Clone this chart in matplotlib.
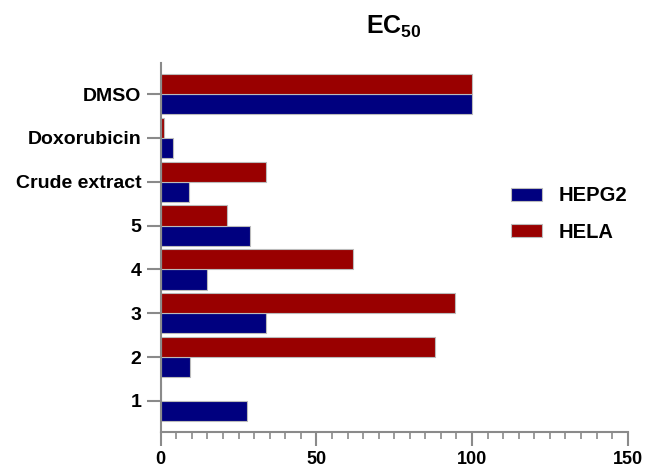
import matplotlib
matplotlib.use("Agg")
import matplotlib.pyplot as plt
import numpy as np
from matplotlib.ticker import MultipleLocator

plt.rcParams['font.family'] = ['Liberation Sans', 'DejaVu Sans']
plt.rcParams['mathtext.fontset'] = 'custom'
plt.rcParams['mathtext.rm'] = 'Liberation Sans:bold'
plt.rcParams['mathtext.bf'] = 'Liberation Sans:bold'

categories = ["1", "2", "3", "4", "5", "Crude extract", "Doxorubicin", "DMSO"]
hepg2 = [27.8, 9.5, 33.8, 14.8, 28.7, 9.2, 4.0, 100]
hela = [0, 88.1, 94.5, 61.9, 21.2, 33.8, 1.1, 100]

blue = "#00007F"
red = "#990000"
edge = "#BBBBBB"
axcol = "#8A8A8A"

fig = plt.figure(figsize=(6.46, 4.67), dpi=100)
ax = fig.add_axes([0.2488, 0.075, 0.9717 - 0.2488, 0.865 - 0.075])

y = np.arange(len(categories))
h = 0.46
ax.barh(y - h / 2, hepg2, height=h, color=blue, edgecolor=edge, linewidth=0.8, label="HEPG2")
ax.barh(y + h / 2, hela, height=h, color=red, edgecolor=edge, linewidth=0.8, label="HELA")

ax.set_xlim(0, 150)
ax.set_ylim(-0.71, 7.71)
ax.set_yticks(y)
ax.set_yticklabels(categories, fontsize=14, fontweight='bold')
ax.xaxis.set_major_locator(MultipleLocator(50))
ax.xaxis.set_minor_locator(MultipleLocator(5))
for lbl in ax.get_xticklabels():
    lbl.set_fontsize(13)
    lbl.set_fontweight('bold')

for s in ['top', 'right']:
    ax.spines[s].set_visible(False)
for s in ['left', 'bottom']:
    ax.spines[s].set_color(axcol)
    ax.spines[s].set_linewidth(1.5)
ax.tick_params(axis='both', which='major', length=10, width=1.5, color=axcol)
ax.tick_params(axis='y', which='major', pad=4)
ax.tick_params(axis='x', which='major', pad=4)
ax.tick_params(axis='x', which='minor', length=5, width=1.2, color=axcol)

ax.set_title(r"$\mathbf{EC}_{\mathbf{50}}$", fontsize=18, pad=21)

leg = ax.legend(loc='center left',
                bbox_to_anchor=(493 / 646, 1 - 214 / 467), bbox_transform=fig.transFigure,
                frameon=False, prop={'size': 14.5, 'weight': 'bold'},
                handlelength=1.55, handleheight=0.65, handletextpad=0.8, labelspacing=0.85)

fig.savefig("out.png", dpi=100)
